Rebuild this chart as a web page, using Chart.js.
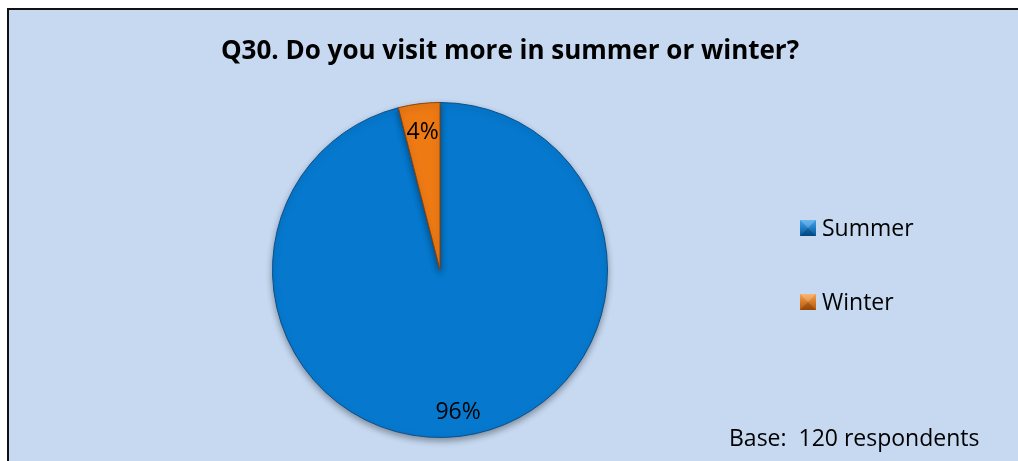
<!DOCTYPE html>
<html>
<head>
<meta charset="utf-8">
<script src="https://cdn.jsdelivr.net/npm/chart.js@4/dist/chart.umd.min.js"></script>
<style>
  html, body { margin: 0; padding: 0; background: #ffffff; }
  #wrap { width: 1018px; height: 461px; position: relative; }
</style>
</head>
<body>
<div id="wrap"><canvas id="c" width="1018" height="461"></canvas></div>
<script>
// Survey answers for Q30
const categories = ['Summer', 'Winter'];
const shares = [96, 4];
const sliceColors = ['#0679CF', '#EE7A14'];
const sliceEdges = ['#0A4F8C', '#8E4208'];
const chartTitle = 'Q30. Do you visit more in summer or winter?';
const baseNote = 'Base:  120 respondents';

const FONT = '"Open Sans", "Noto Sans", sans-serif';

// Panel: light blue box with a dark frame on the top and left
const panelPlugin = {
  id: 'panel',
  beforeDraw(chart) {
    const ctx = chart.ctx;
    ctx.save();
    ctx.fillStyle = '#ffffff';
    ctx.fillRect(0, 0, chart.width, chart.height);
    ctx.fillStyle = '#C6D9F1';
    ctx.fillRect(8, 9, chart.width - 8, chart.height - 9);
    ctx.strokeStyle = '#111111';
    ctx.lineWidth = 2;
    ctx.beginPath();
    ctx.moveTo(8, chart.height);
    ctx.lineTo(8, 9);
    ctx.lineTo(chart.width, 9);
    ctx.stroke();
    ctx.restore();
  }
};

// Soft shadow under the pie
const shadowPlugin = {
  id: 'pieShadow',
  beforeDatasetDraw(chart) {
    const ctx = chart.ctx;
    ctx.save();
    ctx.shadowColor = 'rgba(0,0,0,0.35)';
    ctx.shadowBlur = 6;
    ctx.shadowOffsetY = 3;
  },
  afterDatasetDraw(chart) {
    chart.ctx.restore();
  }
};

// Title, value labels, legend and base note
const textPlugin = {
  id: 'texts',
  afterDraw(chart) {
    const ctx = chart.ctx;
    ctx.save();
    ctx.fillStyle = '#000000';
    ctx.textBaseline = 'middle';

    // title
    ctx.font = 'bold 26px ' + FONT;
    ctx.textAlign = 'center';
    ctx.fillText(chartTitle, 510, 52);

    // value labels placed along each slice
    const meta = chart.getDatasetMeta(0);
    const ds = chart.data.datasets[0];
    ctx.font = '23px ' + FONT;
    meta.data.forEach((arc, i) => {
      const p = arc.getProps(['x', 'y', 'startAngle', 'endAngle', 'outerRadius'], true);
      const mid = (p.startAngle + p.endAngle) / 2;
      const r = p.outerRadius * (i === 0 ? 0.86 : 0.83);
      const x = p.x + Math.cos(mid) * r;
      const y = p.y + Math.sin(mid) * r;
      ctx.fillText(ds.data[i] + '%', x, y);
    });

    // legend
    ctx.textAlign = 'left';
    ctx.font = '23px ' + FONT;
    const legendY = [228, 302];
    chart.data.labels.forEach((lab, i) => {
      const y = legendY[i];
      const x = 800;
      const g = ctx.createLinearGradient(x, y - 8, x, y + 8);
      g.addColorStop(0, i === 0 ? '#3FA3EC' : '#F6A04A');
      g.addColorStop(1, i === 0 ? '#05579A' : '#B5560A');
      ctx.fillStyle = g;
      ctx.fillRect(x, y - 8, 16, 16);
      ctx.fillStyle = 'rgba(0,0,0,0.18)';
      ctx.beginPath();
      ctx.moveTo(x, y + 8); ctx.lineTo(x + 8, y); ctx.lineTo(x + 16, y + 8); ctx.closePath();
      ctx.fill();
      ctx.fillStyle = 'rgba(255,255,255,0.22)';
      ctx.beginPath();
      ctx.moveTo(x, y - 8); ctx.lineTo(x + 8, y); ctx.lineTo(x + 16, y - 8); ctx.closePath();
      ctx.fill();
      ctx.fillStyle = '#000000';
      ctx.fillText(lab, 822, y + 1);
    });

    // base note
    ctx.fillText(baseNote, 729, 439);
    ctx.restore();
  }
};

new Chart(document.getElementById('c'), {
  type: 'pie',
  data: {
    labels: categories,
    datasets: [{
      data: shares,
      backgroundColor: sliceColors,
      borderColor: sliceEdges,
      borderWidth: 1
    }]
  },
  options: {
    responsive: false,
    animation: false,
    devicePixelRatio: 1,
    layout: { padding: { left: 272, right: 410, top: 102, bottom: 23 } },
    plugins: {
      legend: { display: false },
      tooltip: { enabled: false },
      title: { display: false }
    }
  },
  plugins: [panelPlugin, shadowPlugin, textPlugin]
});
</script>
</body>
</html>
